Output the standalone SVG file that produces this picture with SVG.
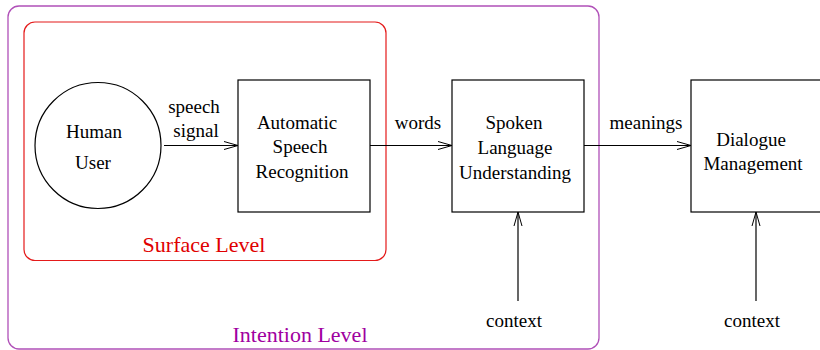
<svg xmlns="http://www.w3.org/2000/svg" width="820" height="350" viewBox="0 0 820 350">
  <defs>
    <marker id="head" viewBox="0 0 14 10" refX="14" refY="5" markerWidth="14" markerHeight="10" markerUnits="userSpaceOnUse" orient="auto">
      <path d="M0,1 L14,5 L0,9" fill="none" stroke="#000" stroke-width="1"/>
    </marker>
  </defs>
  <style>
    text { font-family: "Liberation Serif", "Times New Roman", serif; font-size: 19px; fill: #000; text-anchor: middle; }
    .box { fill: none; stroke: #000; stroke-width: 1.2; }
    .edge { fill: none; stroke: #000; stroke-width: 1.2; marker-end: url(#head); }
    .level { font-size: 22px; }
  </style>
  <rect width="820" height="350" fill="#fff"/>

  <!-- Level regions -->
  <g id="intention-level">
    <rect x="8" y="6" width="591" height="343" rx="11" fill="none" stroke="#b050b8" stroke-width="1.3"/>
    <text class="level" x="300" y="342" style="fill:#a000a0">Intention Level</text>
  </g>
  <g id="surface-level">
    <rect x="24" y="22" width="362" height="238.5" rx="11" fill="none" stroke="#e41a1a" stroke-width="1.2"/>
    <text class="level" x="204" y="252" style="fill:#e00000">Surface Level</text>
  </g>

  <!-- Nodes -->
  <g id="human-user">
    <circle cx="98" cy="145.5" r="63" class="box"/>
    <text x="94" y="138">Human</text>
    <text x="93" y="169">User</text>
  </g>
  <g id="asr">
    <rect x="238" y="80" width="132" height="132" class="box"/>
    <text x="297" y="129">Automatic</text>
    <text x="300" y="153">Speech</text>
    <text x="302" y="178">Recognition</text>
  </g>
  <g id="slu">
    <rect x="452" y="80" width="132" height="132" class="box"/>
    <text x="514" y="129">Spoken</text>
    <text x="515" y="154">Language</text>
    <text x="515" y="179">Understanding</text>
  </g>
  <g id="dm">
    <rect x="691" y="80" width="140" height="132" class="box"/>
    <text x="751" y="146">Dialogue</text>
    <text x="753" y="170">Management</text>
  </g>
  <g id="context-slu">
    <text x="514" y="327">context</text>
  </g>
  <g id="context-dm">
    <text x="752" y="327">context</text>
  </g>

  <!-- Connectors -->
  <g id="connectors">
    <line x1="164" y1="145.5" x2="238" y2="145.5" class="edge"/>
    <line x1="370" y1="145.5" x2="452" y2="145.5" class="edge"/>
    <line x1="584" y1="145.5" x2="691" y2="145.5" class="edge"/>
    <line x1="518" y1="301" x2="518" y2="212" class="edge"/>
    <line x1="756" y1="301" x2="756" y2="212" class="edge"/>
    <text x="194" y="113">speech</text>
    <text x="196" y="137">signal</text>
    <text x="418" y="129">words</text>
    <text x="646" y="129">meanings</text>
  </g>
</svg>
